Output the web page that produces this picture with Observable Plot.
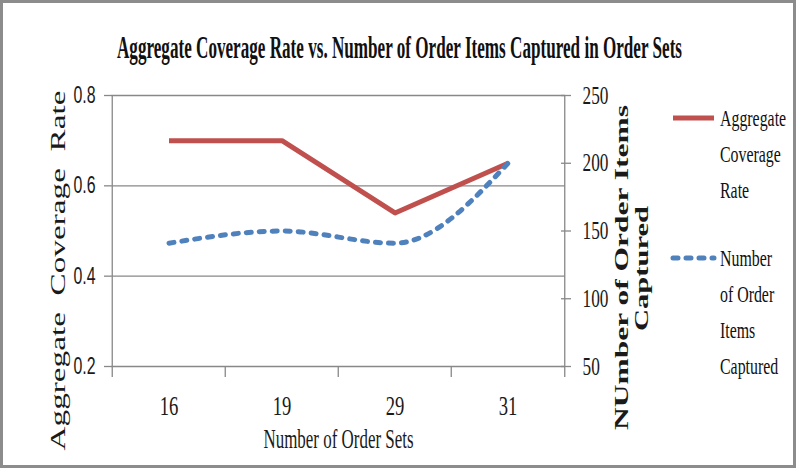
<!DOCTYPE html>
<html><head><meta charset="utf-8">
<script src="https://cdn.jsdelivr.net/npm/d3@7"></script>
<script src="https://cdn.jsdelivr.net/npm/@observablehq/plot@0.6"></script>
<style>
body{margin:0;background:#fff;}
#wrap{position:relative;width:796px;height:468px;overflow:hidden;background:#fff;}
#border{position:absolute;left:0;top:0;width:796px;height:468px;box-sizing:border-box;border:3px solid #8c8c8c;pointer-events:none;}
#title{display:block;}
#chart svg{display:block;}
</style></head><body>
<div id="wrap">
<svg id="title" width="796" height="70"></svg>
<div id="chart"></div>
<svg id="legend" width="796" height="468" style="position:absolute;left:0;top:0;pointer-events:none"></svg>
<div id="border"></div>
</div>
<script>
const titleText = "Aggregate Coverage Rate vs. Number of Order Items Captured in Order Sets";
const categories = ["16", "19", "29", "31"];
const coverageRate = [0.70, 0.70, 0.54, 0.65];
const orderItems = [141, 150, 141, 200];
const leftTicks = [0.2, 0.4, 0.6, 0.8];
const rightTicks = [50, 100, 150, 200, 250];
const xLabel = "Number of Order Sets";
const yLeftLabel = "Aggregate  Coverage  Rate";
const yRightLabel = ["NUmber of Order Items", "Captured"];
const seriesNames = ["Aggregate Coverage Rate", "Number of Order Items Captured"];
const legendLines = [["Aggregate", "Coverage", "Rate"], ["Number", "of Order", "Items", "Captured"]];
const seriesColors = ["#C0504D", "#4F81BD"];

const serif = '"Liberation Serif","Times New Roman",serif';
const sans = '"Liberation Sans",Arial,sans-serif';
const grid = "#888888";
const squeezeK = 0.69;

const W = 796, H = 398, ML = 111, MR = 231, MT = 25, MB = 102;
const bw = (W - ML - MR) / categories.length;
const leftDomain = [0.2, 0.8], rightDomain = [50, 250];
const toLeft = v => leftDomain[0] + (v - rightDomain[0]) * (leftDomain[1] - leftDomain[0]) / (rightDomain[1] - rightDomain[0]);
const fromLeft = u => rightDomain[0] + (u - leftDomain[0]) * (rightDomain[1] - rightDomain[0]) / (leftDomain[1] - leftDomain[0]);
const rows = categories.map((c, i) => ({cat: c, rate: coverageRate[i], items: orderItems[i]}));

const chart = Plot.plot({
  width: W, height: H, marginLeft: ML, marginRight: MR, marginTop: MT, marginBottom: MB,
  style: {background: "transparent", color: "#1a1a1a", overflow: "visible"},
  x: {type: "band", domain: categories, padding: 0, axis: null},
  y: {domain: leftDomain, axis: null},
  marks: [
    Plot.gridY(leftTicks, {stroke: grid, strokeOpacity: 1, strokeWidth: 1.3}),
    Plot.ruleX([categories[0]], {x: d => d, dx: -bw / 2, stroke: grid, strokeWidth: 1.3, insetBottom: -11}),
    Plot.ruleX([categories[categories.length - 1]], {x: d => d, dx: bw / 2, stroke: grid, strokeWidth: 1.3, insetBottom: -11}),
    Plot.axisX(categories.slice(1), {tickSize: 11, dx: -bw / 2, stroke: grid, strokeWidth: 1.3, tickFormat: () => "", label: null}),
    Plot.axisX({tickSize: 0, tickPadding: 29, fontSize: 27, fontFamily: serif, label: null}),
    Plot.axisY(leftTicks, {anchor: "left", tickSize: 7, tickPadding: 9, fontSize: 23, fontFamily: sans, stroke: grid, strokeWidth: 1.3, tickFormat: d => d.toFixed(1), label: null}),
    Plot.axisY(rightTicks.map(toLeft), {anchor: "right", tickSize: 10, dx: -5, tickPadding: 12, fontSize: 25, fontFamily: serif, stroke: grid, strokeWidth: 1.3, tickFormat: d => String(Math.round(fromLeft(d))), label: null}),
    Plot.line(rows, {x: "cat", y: "rate", stroke: seriesColors[0], strokeWidth: 5, strokeLinecap: "butt"}),
    Plot.line(rows, {x: "cat", y: d => toLeft(d.items), stroke: seriesColors[1], strokeWidth: 5, strokeDasharray: "5,8", strokeLinecap: "round", curve: "monotone-x"}),
    Plot.text([xLabel], {frameAnchor: "bottom", dy: 73, text: d => d, textAnchor: "middle", lineAnchor: "middle", fontSize: 27, fontFamily: serif}),
    Plot.text([yLeftLabel], {frameAnchor: "left", dx: -53, dy: 39.5, rotate: -90, text: d => d, textAnchor: "middle", lineAnchor: "middle", fontSize: 21, fontFamily: serif}),
    Plot.text([yRightLabel[0]], {frameAnchor: "right", dx: 57, dy: 36.5, rotate: -90, text: d => d, textAnchor: "middle", lineAnchor: "middle", fontSize: 18, fontWeight: "bold", fontFamily: serif}),
    Plot.text([yRightLabel[1]], {frameAnchor: "right", dx: 77, dy: 37.5, rotate: -90, text: d => d, textAnchor: "middle", lineAnchor: "middle", fontSize: 18, fontWeight: "bold", fontFamily: serif})
  ]
});
document.getElementById("chart").appendChild(chart);

const titleLengths = new Map([[xLabel, 150], [yLeftLabel, 360], [yRightLabel[0], 325], [yRightLabel[1], 125]]);
chart.querySelectorAll("text").forEach(t => {
  const s = t.textContent;
  if (titleLengths.has(s)) {
    t.setAttribute("textLength", titleLengths.get(s));
    t.setAttribute("lengthAdjust", "spacingAndGlyphs");
  }
});
chart.querySelectorAll('g[aria-label$="tick label"] text').forEach(t => {
  const L = t.getComputedTextLength();
  if (L > 0) {
    t.setAttribute("textLength", L * squeezeK);
    t.setAttribute("lengthAdjust", "spacingAndGlyphs");
  }
});

// title
const tsvg = d3.select("#title");
tsvg.append("text").attr("x", 399.5).attr("y", 58).attr("text-anchor", "middle")
  .attr("font-family", serif).attr("font-weight", "bold").attr("font-size", 31).attr("fill", "#111")
  .attr("textLength", 565).attr("lengthAdjust", "spacingAndGlyphs").text(titleText);

// legend
const lg = d3.select("#legend");
const legendTop = [118, 258];
legendLines.forEach((lines, s) => {
  const y0 = legendTop[s];
  const ln = lg.append("line").attr("x1", 673).attr("x2", 714).attr("y1", y0).attr("y2", y0)
    .attr("stroke", seriesColors[s]).attr("stroke-width", 5);
  if (s === 1) ln.attr("stroke-dasharray", "5,8").attr("stroke-linecap", "round");
  lines.forEach((t, j) => {
    const el = lg.append("text").attr("x", 720).attr("y", y0 + j * 36).attr("dy", "0.33em")
      .attr("font-family", serif).attr("font-size", 23).attr("fill", "#111").text(t);
    const L = el.node().getComputedTextLength();
    el.attr("textLength", L * squeezeK).attr("lengthAdjust", "spacingAndGlyphs");
  });
});
lg.append("title").text(seriesNames.join(", "));
</script>
</body></html>
